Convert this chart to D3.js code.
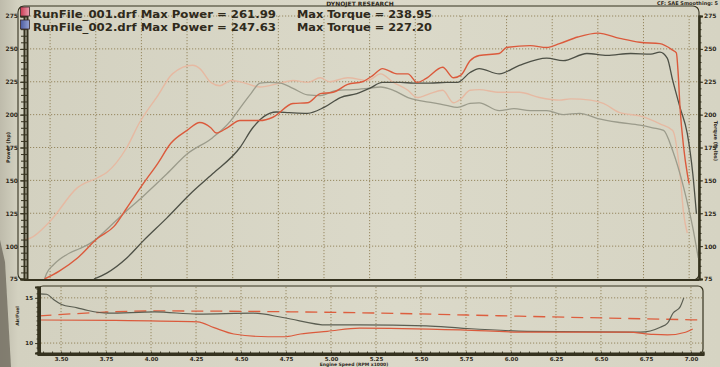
<!DOCTYPE html>
<html>
<head>
<meta charset="utf-8">
<script src="https://cdn.jsdelivr.net/npm/d3@7"></script>
<style>
  html, body { margin: 0; padding: 0; background: #d7d5c4; }
  svg { display: block; }
  text { font-family: "DejaVu Sans", Verdana, sans-serif; font-weight: bold; fill: #2f2a1c; }
</style>
</head>
<body>
<svg id="chart" width="720" height="367"></svg>
<script>
// run legend
var runFiles = ["RunFile_001.drf", "RunFile_002.drf"];
var maxPower = ["261.99", "247.63"];
var maxTorque = ["238.95", "227.20"];

// tick labels
var powerTicks = [75, 100, 125, 150, 175, 200, 225, 250, 275];
var rpmTicks = [3.50, 3.75, 4.00, 4.25, 4.50, 4.75, 5.00, 5.25, 5.50, 5.75, 6.00, 6.25, 6.50, 6.75, 7.00];
var afrTicks = [10, 15];

// [rpm x1000, hp]
var run1Power = [[3.47,75],[3.55,81],[3.65,91],[3.76,106],[3.85,115],[3.92,129],[4.01,147.5],[4.09,163],[4.16,178],
  [4.25,188],[4.32,194],[4.38,190],[4.41,186],[4.47,190],[4.54,195.5],[4.65,195.5],[4.72,198],[4.83,208.5],[4.91,209],
  [4.98,216],[5.05,217],[5.13,223],[5.21,225],[5.27,230],[5.32,235],[5.40,231],[5.46,231],[5.51,224.5],[5.56,227.5],
  [5.65,236],[5.71,228],[5.75,230],[5.80,241],[5.85,245],[5.96,246.5],[6.00,251],[6.13,252.5],[6.22,251],[6.29,254],
  [6.39,259],[6.50,262],[6.62,258],[6.73,255],[6.84,254],[6.91,249],[6.93,247],[6.94,231],[6.95,205.5],[6.97,175],
  [6.99,155],[7.00,147.5]];
var run2Power = [[3.74,75],[3.81,79.5],[3.92,91],[4.01,104],[4.14,121.5],[4.27,140],[4.39,155],[4.54,175],[4.61,190],
  [4.67,198.5],[4.74,202],[4.81,201.5],[4.91,201],[5.00,205.5],[5.09,213],[5.18,216],[5.25,220],[5.32,224.5],[5.42,224.5],
  [5.49,224],[5.58,224],[5.67,224.5],[5.73,224.5],[5.80,232],[5.85,235],[5.96,231],[6.07,237.5],[6.22,243],[6.31,241],
  [6.44,246.5],[6.55,245],[6.68,246.5],[6.79,246],[6.84,247.5],[6.88,243],[6.91,226],[6.95,205.5],[6.99,185.5],
  [7.02,155],[7.04,124.5]];
// [rpm x1000, ft-lbs]
var run1Torque = [[3.36,105],[3.39,106],[3.50,119],[3.65,144.5],[3.76,152],[3.81,156],[3.92,175],[3.99,194],[4.09,214.5],
  [4.17,231],[4.28,237.5],[4.32,235],[4.38,224.5],[4.43,222],[4.49,226],[4.54,225],[4.65,221],[4.76,224],[4.83,226],
  [4.91,224.5],[4.98,228],[5.03,225],[5.13,228],[5.24,226],[5.31,231],[5.38,224.5],[5.46,218.5],[5.51,213],[5.58,216],
  [5.65,218.5],[5.71,209],[5.75,212],[5.80,218.5],[5.85,219],[5.96,217],[6.07,217],[6.18,213],[6.29,211],[6.35,212],
  [6.46,211],[6.53,208.5],[6.62,201.5],[6.73,199],[6.84,193],[6.91,188],[6.95,155],[6.97,124.5],[6.99,110]];
var run2Torque = [[3.47,75],[3.48,79],[3.52,86],[3.61,95],[3.66,98],[3.74,104],[3.79,110],[3.90,124.5],[4.01,138],
  [4.14,155],[4.25,170],[4.39,182.5],[4.49,195.5],[4.54,205],[4.60,216],[4.65,224],[4.70,224.5],[4.76,224],[4.83,220],
  [4.91,215],[4.98,214.5],[5.07,218.5],[5.16,219],[5.24,220],[5.31,221],[5.38,218.5],[5.46,213],[5.51,211],[5.60,209],
  [5.67,207],[5.73,205.5],[5.80,208.5],[5.85,209],[5.96,203],[6.04,204.5],[6.13,203],[6.22,203],[6.31,200],[6.40,201],
  [6.50,197],[6.62,194],[6.73,192],[6.80,190],[6.86,188],[6.91,172.5],[6.97,144.5],[7.02,114],[7.05,91]];

// [rpm x1000, air/fuel]
var run1Afr = [[3.38,12.55],[3.80,12.5],[4.26,12.35],[4.35,11.7],[4.46,11.0],[4.65,10.7],[4.74,10.7],[4.83,11.0],
  [4.98,11.3],[5.16,11.65],[5.72,11.45],[6.09,11.2],[6.65,11.2],[6.79,10.95],[6.87,10.9],[6.97,11.2],[7.01,11.55]];
var run2Afr = [[3.38,15.45],[3.42,15.4],[3.46,14.8],[3.50,14.3],[3.59,13.9],[3.65,13.6],[3.76,13.3],[4.02,13.45],
  [4.26,13.2],[4.57,13.3],[4.74,12.8],[4.98,12.0],[5.16,12.0],[5.53,11.9],[5.72,11.65],[6.09,11.3],[6.65,11.2],
  [6.72,11.2],[6.83,11.75],[6.87,12.2],[6.90,13.3],[6.94,14.0],[6.96,15.0]];
var afrTarget = [[3.38,13.0],[4.02,13.55],[5.16,13.35],[6.09,12.95],[7.06,12.55]];

var width = 720, height = 367;
var svg = d3.select("#chart");

// paper
var defs = svg.append("defs");
var paper = defs.append("linearGradient").attr("id", "paper");
paper.append("stop").attr("offset", "0%").attr("stop-color", "#bebbab");
paper.append("stop").attr("offset", "2.5%").attr("stop-color", "#d3d1c0");
paper.append("stop").attr("offset", "55%").attr("stop-color", "#dbd9c9");
paper.append("stop").attr("offset", "100%").attr("stop-color", "#d6d4c3");
svg.append("rect").attr("width", width).attr("height", height).attr("fill", "url(#paper)");
svg.append("path").attr("d", "M0,240 L5,262 L11,367 L0,367 Z").attr("fill", "#767164").attr("opacity", 0.85);

var x = d3.scaleLinear().domain([3.357, 7.054]).range([24, 699]);
var y = d3.scaleLinear().domain([75, 275]).range([279, 16]);
var xb = d3.scaleLinear().domain([3.372, 7.067]).range([38, 703]);
var yb = d3.scaleLinear().domain([8.9, 16.2]).range([353, 287]);

var gridColor = "#8e7f55", axisColor = "#35321f";

function grid(g, xs, ys, xv, yv) {
  g.selectAll(".v").data(xv).enter().append("line")
    .attr("x1", function(d) { return xs(d); }).attr("x2", function(d) { return xs(d); })
    .attr("y1", ys.range()[1]).attr("y2", ys.range()[0]);
  g.selectAll(".h").data(yv).enter().append("line")
    .attr("x1", xs.range()[0]).attr("x2", xs.range()[1])
    .attr("y1", function(d) { return ys(d); }).attr("y2", function(d) { return ys(d); });
  g.selectAll("line").attr("stroke", gridColor).attr("stroke-width", 0.9).attr("stroke-dasharray", "1.2,1.8");
}

// ---- main plot ----
var main = svg.append("g");
main.append("rect").attr("x", 18).attr("y", 6).attr("width", 681).attr("height", 274).attr("rx", 6)
  .attr("fill", "none").attr("stroke", axisColor).attr("stroke-width", 1.1);
grid(main.append("g"), x, y, rpmTicks, powerTicks.slice(1));

var line = d3.line().curve(d3.curveMonotoneX)
  .x(function(d) { return x(d[0]); }).y(function(d) { return y(d[1]); });
var curves = [
  { data: run1Torque, color: "#e6b9a2", w: 1.4 },
  { data: run2Torque, color: "#9b9b8b", w: 1.3 },
  { data: run2Power, color: "#4d5046", w: 1.3 },
  { data: run1Power, color: "#db5a3c", w: 1.4 }
];
curves.forEach(function(c) {
  main.append("path").datum(c.data).attr("d", line)
    .attr("fill", "none").attr("stroke", c.color).attr("stroke-width", c.w).attr("stroke-linejoin", "round");
});

// left axis (power)
main.append("g").attr("transform", "translate(" + x.range()[0] + ",0)")
  .call(d3.axisLeft(y).tickValues(powerTicks).tickSize(4).tickPadding(2));
main.append("g").attr("transform", "translate(" + (x.range()[0] + 3) + ",0)")
  .call(d3.axisLeft(y).tickValues(d3.range(75, 276, 5)).tickSize(6).tickFormat(""));
// right axis (torque)
main.append("g").attr("transform", "translate(" + x.range()[1] + ",0)")
  .call(d3.axisRight(y).tickValues(powerTicks).tickSize(4).tickPadding(1));
main.append("g").attr("transform", "translate(" + x.range()[1] + ",0)")
  .call(d3.axisRight(y).tickValues(d3.range(75, 276, 5)).tickSize(2.5).tickFormat(""));
main.selectAll(".domain").attr("stroke", axisColor).attr("stroke-width", 2);
main.selectAll(".tick line").attr("stroke", axisColor).attr("stroke-width", 1);
main.selectAll(".tick text").style("font-size", "6px").attr("fill", "#2f2a1c")
  .style("font-family", "DejaVu Sans, sans-serif").style("font-weight", "bold");
main.append("line").attr("x1", x.range()[0]).attr("x2", x.range()[1]).attr("y1", 280).attr("y2", 280)
  .attr("stroke", axisColor).attr("stroke-width", 2);

main.append("text").attr("transform", "translate(10," + y(175) + ") rotate(-90)")
  .attr("text-anchor", "middle").style("font-size", "5px").text("Power (hp)");
main.append("text").attr("transform", "translate(714," + y(180) + ") rotate(90)")
  .attr("text-anchor", "middle").style("font-size", "5px").text("Torque (ft-lbs)");

// header
svg.append("text").attr("x", 360).attr("y", 6).attr("text-anchor", "middle")
  .style("font-size", "6px").text("DYNOJET RESEARCH");
svg.append("text").attr("x", 718).attr("y", 4.5).attr("text-anchor", "end")
  .style("font-size", "5px").text("CF: SAE  Smoothing: 5");

// legend
var swatches = [["#c93a52", "#ec9fb0"], ["#4a5aa0", "#98a4d4"]];
swatches.forEach(function(s, i) {
  var gr = defs.append("linearGradient").attr("id", "sw" + i);
  gr.append("stop").attr("offset", "0%").attr("stop-color", s[0]);
  gr.append("stop").attr("offset", "100%").attr("stop-color", s[1]);
});
var legend = svg.append("g").selectAll("g").data(runFiles).enter().append("g");
legend.append("rect").attr("x", 20.5).attr("y", function(d, i) { return 7 + i * 13; })
  .attr("width", 9).attr("height", 9).attr("fill", function(d, i) { return "url(#sw" + i + ")"; })
  .attr("stroke", "#3a2a2a").attr("stroke-width", 0.8);
legend.append("text").attr("x", 33).attr("y", function(d, i) { return 17.5 + i * 13; })
  .attr("textLength", 243).attr("lengthAdjust", "spacingAndGlyphs")
  .style("font-size", "11px").style("font-family", "DejaVu Sans Condensed, DejaVu Sans, sans-serif")
  .text(function(d, i) { return d + " Max Power = " + maxPower[i]; });
legend.append("text").attr("x", 297).attr("y", function(d, i) { return 17.5 + i * 13; })
  .attr("textLength", 135).attr("lengthAdjust", "spacingAndGlyphs")
  .style("font-size", "11px").style("font-family", "DejaVu Sans Condensed, DejaVu Sans, sans-serif")
  .text(function(d, i) { return "Max Torque = " + maxTorque[i]; });

// ---- air/fuel panel ----
var afr = svg.append("g");
afr.append("rect").attr("x", 38).attr("y", 286).attr("width", 665).attr("height", 68).attr("rx", 5)
  .attr("fill", "none").attr("stroke", axisColor).attr("stroke-width", 1.2);
grid(afr.append("g"), xb, yb, rpmTicks, afrTicks);

var lineB = d3.line().curve(d3.curveMonotoneX)
  .x(function(d) { return xb(d[0]); }).y(function(d) { return yb(d[1]); });
afr.append("path").datum(afrTarget).attr("d", lineB).attr("fill", "none")
  .attr("stroke", "#dd5e3e").attr("stroke-width", 1.3).attr("stroke-dasharray", "12,7");
afr.append("path").datum(run2Afr).attr("d", lineB).attr("fill", "none")
  .attr("stroke", "#5b5e52").attr("stroke-width", 1.2);
afr.append("path").datum(run1Afr).attr("d", lineB).attr("fill", "none")
  .attr("stroke", "#db5a3c").attr("stroke-width", 1.2);

afr.append("g").attr("transform", "translate(" + xb.range()[0] + ",0)")
  .call(d3.axisLeft(yb).tickValues(afrTicks).tickSize(3).tickPadding(2));
afr.append("g").attr("transform", "translate(" + (xb.range()[0] + 1.5) + ",0)")
  .call(d3.axisLeft(yb).tickValues(d3.range(9, 16.01, 0.5)).tickSize(3).tickFormat(""));
afr.append("g").attr("transform", "translate(0," + yb.range()[0] + ")")
  .call(d3.axisBottom(xb).tickValues(rpmTicks).tickSize(2).tickPadding(2).tickFormat(d3.format(".2f")));
afr.append("g").attr("transform", "translate(0," + (yb.range()[0] + 1.5) + ")")
  .call(d3.axisTop(xb).tickValues(d3.range(3.40, 7.06, 0.05)).tickSize(3).tickFormat(""));
afr.selectAll(".domain").attr("stroke", axisColor).attr("stroke-width", 2);
afr.selectAll(".tick line").attr("stroke", axisColor).attr("stroke-width", 0.9);
afr.selectAll(".tick text").style("font-size", "5.5px").attr("fill", "#2f2a1c")
  .style("font-family", "DejaVu Sans, sans-serif").style("font-weight", "bold");

afr.append("text").attr("transform", "translate(19,316) rotate(-90)")
  .attr("text-anchor", "middle").style("font-size", "4.5px").text("Air/Fuel");
afr.append("text").attr("x", 354).attr("y", 366).attr("text-anchor", "middle")
  .style("font-size", "4.5px").text("Engine Speed (RPM x1000)");
</script>
</body>
</html>
